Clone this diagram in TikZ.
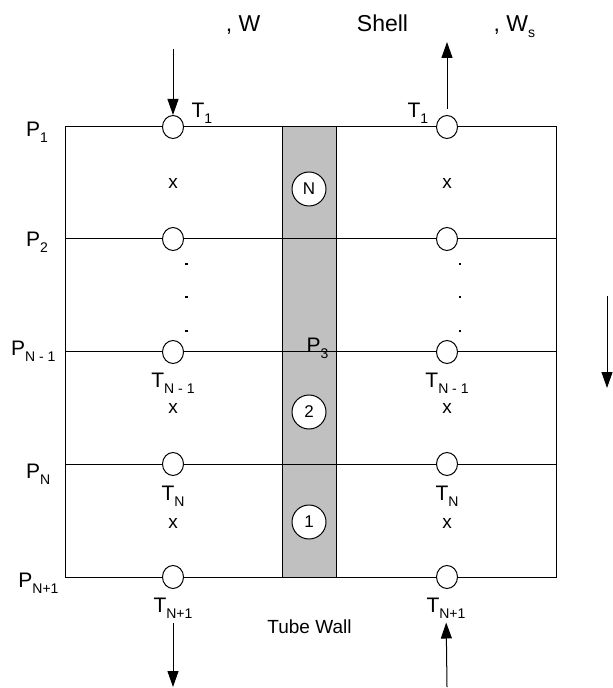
\documentclass[tikz,border=0pt]{standalone}
\usepackage{fontspec}
\setmainfont{Liberation Sans}
\usetikzlibrary{arrows.meta,shapes.geometric}
\definecolor{WallGray}{HTML}{C0C0C0}
\newcommand{\lowsub}[1]{\raisebox{-3pt}{\fontsize{7}{8}\selectfont #1}}

\begin{document}
\begin{tikzpicture}[x=0.5pt,y=-0.5pt,line width=0.5pt,
  port/.style={ellipse,draw,fill=white,inner sep=0pt,minimum width=10.5pt,minimum height=11.5pt},
  cell/.style={circle,draw,fill=white,inner sep=0pt,minimum size=17pt,font=\fontsize{8.5}{9}\selectfont},
  lbl/.style={inner sep=0pt,font=\fontsize{10.5}{12}\selectfont},
  toplbl/.style={inner sep=0pt,font=\fontsize{11.5}{13}\selectfont},
  xmark/.style={inner sep=0pt,font=\fontsize{9.5}{11}\selectfont},
  flow/.style={-{Triangle[length=8pt,width=5.5pt]}}]
\path[use as bounding box] (0,0) rectangle (613,688);
\filldraw[fill=WallGray] (282,127) rectangle (336,577);
\draw (65,127) rectangle (556,577);
\foreach \y in {239,352,464}
  \draw (65,\y) -- (556,\y);
\foreach \y/\k in {127/1,239/2,352/3,464/4,577/5} {
  \node[port] (l\k) at (173,\y) {};
  \node[port] (r\k) at (447,\y) {};
}
\foreach \y in {264,297,331} {
  \fill (185.4,\y-1.3) rectangle ++(2.6,2.6);
  \fill (458.7,\y-1.3) rectangle ++(2.6,2.6);
}
\node[cell] (cN) at (309,189) {N};
\node[cell] (c2) at (309,412) {2};
\node[cell] (c1) at (309,522) {1};
\node[toplbl,anchor=base] (inw) at (243,32) {, W};
\node[toplbl,anchor=base] (shell) at (382.5,32) {Shell};
\node[toplbl,anchor=base west] (outws) at (493,32) {, W\lowsub{s}};
\node[lbl,anchor=base west] (p1) at (25.5,137) {P\lowsub{1}};
\node[lbl,anchor=base west] (p2) at (25.5,247) {P\lowsub{2}};
\node[lbl,anchor=base east] (pNm) at (56,356) {P\lowsub{N - 1}};
\node[lbl,anchor=base west] (pN) at (25.5,478) {P\lowsub{N}};
\node[lbl,anchor=base east] (pNp) at (59,587) {P\lowsub{N+1}};
\node[lbl,anchor=base west] (p3) at (306,352) {P\lowsub{3}};
\node[lbl,anchor=base west] (t1l) at (191,118) {T\lowsub{1}};
\node[lbl,anchor=base west] (t1r) at (407,118) {T\lowsub{1}};
\node[lbl,anchor=base] (tNml) at (173,387) {T\lowsub{N - 1}};
\node[lbl,anchor=base] (tNmr) at (447,387) {T\lowsub{N - 1}};
\node[lbl,anchor=base] (tNl) at (173,500) {T\lowsub{N}};
\node[lbl,anchor=base] (tNr) at (447,500) {T\lowsub{N}};
\node[lbl,anchor=base] (tNpl) at (173,612) {T\lowsub{N+1}};
\node[lbl,anchor=base] (tNpr) at (446,612) {T\lowsub{N+1}};
\node[xmark] (x1l) at (173,183) {x};
\node[xmark] (x1r) at (447,183) {x};
\node[xmark] (x2l) at (173,408) {x};
\node[xmark] (x2r) at (447,408) {x};
\node[xmark] (x3l) at (173,523) {x};
\node[xmark] (x3r) at (447,523) {x};
\node[xmark,anchor=base] (wall) at (309.5,633) {Tube Wall};
\coordinate (inTop) at (173,49);
\coordinate (outTop) at (447,42);
\coordinate (outBot) at (173,687);
\coordinate (inBot) at (447,687);
\coordinate (dirA) at (607,296);
\coordinate (dirB) at (607,388);
\draw[flow] (inTop) -- (l1);
\draw[flow,shorten <=3pt] (r1) -- (outTop);
\draw[flow,shorten <=2pt] (tNpl) -- (outBot);
\draw[flow,shorten >=2pt] (inBot) -- (tNpr);
\draw[flow] (dirA) -- (dirB);
\end{tikzpicture}
\end{document}
